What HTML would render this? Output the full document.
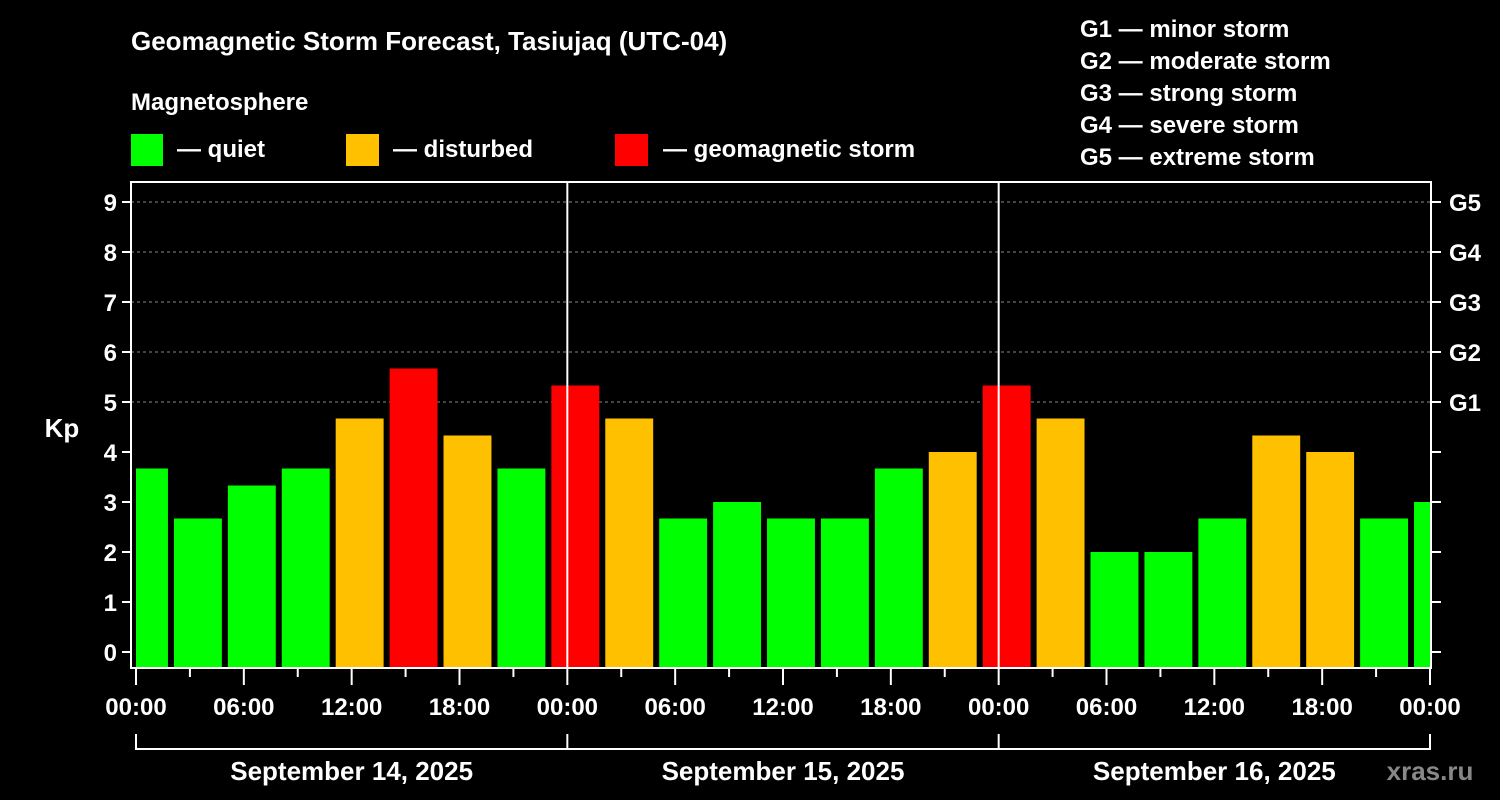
<!DOCTYPE html>
<html><head><meta charset="utf-8"><style>
html,body{margin:0;padding:0;background:#000;}
svg{display:block;font-family:"Liberation Sans",Arial,sans-serif;font-weight:bold;}
</style></head><body>
<svg id="chart" width="1500" height="800" viewBox="0 0 1500 800">
<rect width="1500" height="800" fill="#000"/>
<text x="131" y="50" fill="#fff" font-size="26">Geomagnetic Storm Forecast, Tasiujaq (UTC-04)</text>
<text x="131" y="110" fill="#fff" font-size="24">Magnetosphere</text>
<g><rect x="131" y="134" width="32" height="32" fill="#00ff00"/><text x="177" y="157" fill="#fff" font-size="24">— quiet</text></g>
<g><rect x="346" y="134" width="33" height="32" fill="#ffc000"/><text x="393" y="157" fill="#fff" font-size="24">— disturbed</text></g>
<g><rect x="615" y="134" width="33" height="32" fill="#ff0000"/><text x="663" y="157" fill="#fff" font-size="24">— geomagnetic storm</text></g>
<g fill="#fff" font-size="24">
<text x="1080" y="37">G1 — minor storm</text>
<text x="1080" y="69">G2 — moderate storm</text>
<text x="1080" y="101">G3 — strong storm</text>
<text x="1080" y="133">G4 — severe storm</text>
<text x="1080" y="165">G5 — extreme storm</text>
</g>
<text x="62" y="437" fill="#fff" font-size="26" text-anchor="middle">Kp</text>
<g id="grid"></g><g id="bars"></g><g id="axes"></g>
<text x="1430" y="780" fill="#888" font-size="26" text-anchor="middle">xras.ru</text>
</svg>
<script>
const kpValues=[3.67,2.67,3.33,3.67,4.67,5.67,4.33,3.67,5.33,4.67,2.67,3.0,2.67,2.67,3.67,4.0,5.33,4.67,2.0,2.0,2.67,4.33,4.0,2.67,3.0];
const yTicks=[0,1,2,3,4,5,6,7,8,9];
const gLabels=["G1","G2","G3","G4","G5"];
const xTickLabels=["00:00","06:00","12:00","18:00","00:00","06:00","12:00","18:00","00:00","06:00","12:00","18:00","00:00"];
const dayLabels=["September 14, 2025","September 15, 2025","September 16, 2025"];
const firstSlotHour=-1, slotHours=3, totalHours=72;

const NS="http://www.w3.org/2000/svg";
const L=131,R=1431,T=182,B=668,X0=136,X1=1430;
const xs=h=>X0+(X1-X0)*h/totalHours;
const ys=k=>652-k*50;
function mk(tag,attrs,parent){const e=document.createElementNS(NS,tag);for(const k in attrs)e.setAttribute(k,attrs[k]);parent.appendChild(e);return e;}
const grid=document.getElementById('grid'),bars=document.getElementById('bars'),axes=document.getElementById('axes');
for(let k=5;k<=9;k++){const l=mk('line',{x1:L,x2:R,y1:ys(k),y2:ys(k),stroke:'#888','stroke-dasharray':'3,3','stroke-width':1},grid);

}
kpValues.forEach((v,i)=>{
 const s=firstSlotHour+i*slotHours;
 let x=xs(s)+2,x2=xs(s+slotHours)-4;
 x=Math.max(x,L+5);x2=Math.min(x2,R-1);
 const c=v<4?'#00ff00':(v<5?'#ffc000':'#ff0000');
 const r=mk('rect',{x:x,y:ys(v),width:Math.max(0,x2-x),height:B-ys(v),fill:c},bars);
 
 
});
for(let d=1;d<3;d++){const l=mk('line',{x1:xs(d*24),x2:xs(d*24),y1:T,y2:B,stroke:'#fff','stroke-width':2},axes);

}
const fr=mk('rect',{x:L,y:T,width:R-L,height:B-T,fill:'none',stroke:'#fff','stroke-width':2},axes);


yTicks.forEach(k=>{
 mk('line',{x1:L-9,x2:L,y1:ys(k),y2:ys(k),stroke:'#fff','stroke-width':2},axes);
 mk('line',{x1:R,x2:R+10,y1:ys(k),y2:ys(k),stroke:'#fff','stroke-width':2},axes);
 const t=mk('text',{x:L-14,y:ys(k)+9,fill:'#fff','font-size':24,'text-anchor':'end'},axes);t.textContent=k;
 
 
});
gLabels.forEach((g,i)=>{const t=mk('text',{x:R+18,y:ys(5+i)+9,fill:'#fff','font-size':24},axes);t.textContent=g;

});
for(let h=0;h<=totalHours;h+=3){mk('line',{x1:xs(h),x2:xs(h),y1:B,y2:B+(h%6?9:17),stroke:'#fff','stroke-width':2},axes);}
xTickLabels.forEach((s,i)=>{const t=mk('text',{x:xs(i*6),y:715,fill:'#fff','font-size':24,'text-anchor':'middle'},axes);t.textContent=s;

});
mk('line',{x1:X0-1,x2:X1+1,y1:749,y2:749,stroke:'#fff','stroke-width':2},axes);
for(let d=0;d<=3;d++)mk('line',{x1:xs(d*24),x2:xs(d*24),y1:734,y2:749,stroke:'#fff','stroke-width':2},axes);
dayLabels.forEach((s,i)=>{const t=mk('text',{x:xs(i*24+12),y:780,fill:'#fff','font-size':26,'text-anchor':'middle'},axes);t.textContent=s;

});
</script>
</body></html>
